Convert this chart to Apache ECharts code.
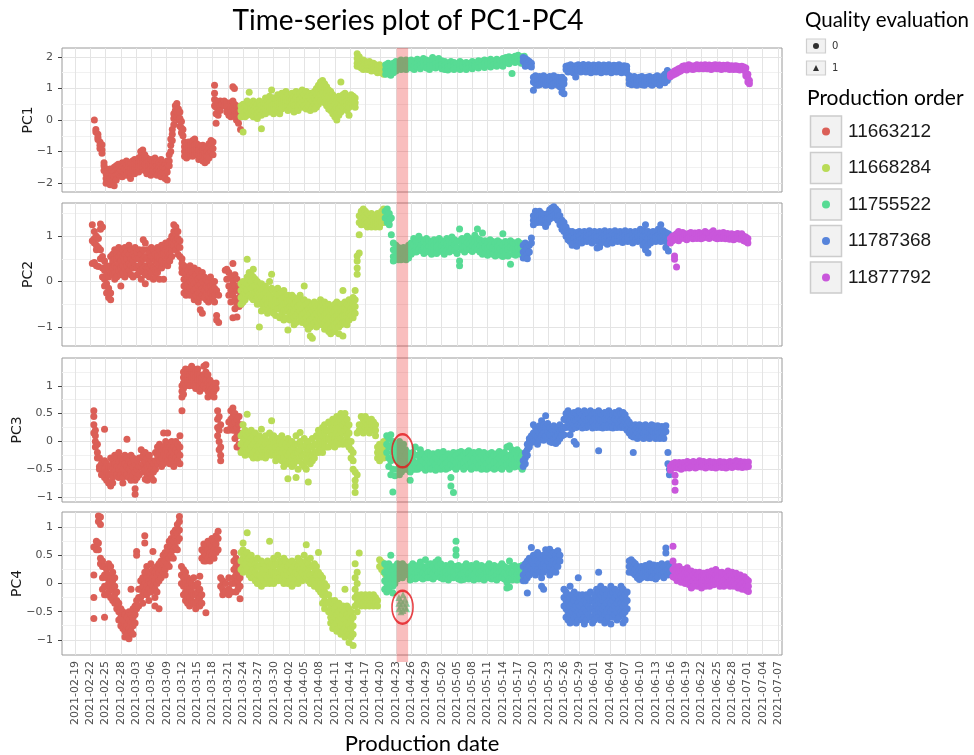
<!DOCTYPE html>
<html><head><meta charset="utf-8">
<script src="https://cdn.jsdelivr.net/npm/echarts@6/dist/echarts.min.js"></script>
<style>html,body{margin:0;padding:0;background:#fff}#chart{width:974px;height:755px}</style>
</head><body><div id="chart"></div>
<script>
// ---- DATA ----
// x values: day number counted from 2021-01-01 (day 0), fractional days allowed.
// each row: [day, value, value, ...]  (several observations read at that date)
const orders = ['11663212', '11668284', '11755522', '11787368', '11877792'];
const pcNames = ['PC1', 'PC2', 'PC3', 'PC4'];
const qualityLevels = ['0', '1'];
const xTickLabels = ['2021-02-19','2021-02-22','2021-02-25','2021-02-28','2021-03-03','2021-03-06','2021-03-09','2021-03-12','2021-03-15','2021-03-18','2021-03-21','2021-03-24','2021-03-27','2021-03-30','2021-04-02','2021-04-05','2021-04-08','2021-04-11','2021-04-14','2021-04-17','2021-04-20','2021-04-23','2021-04-26','2021-04-29','2021-05-02','2021-05-05','2021-05-08','2021-05-11','2021-05-14','2021-05-17','2021-05-20','2021-05-23','2021-05-26','2021-05-29','2021-06-01','2021-06-04','2021-06-07','2021-06-10','2021-06-13','2021-06-16','2021-06-19','2021-06-22','2021-06-25','2021-06-28','2021-07-01','2021-07-04','2021-07-07'];
const xRange = [46.45, 187.8];
const yTicks = [[-2, -1, 0, 1, 2], [-1, 0, 1], [-1, -0.5, 0, 0.5, 1], [-1, -0.5, 0, 0.5, 1]];
const yMinor = [[-1.5, -0.5, 0.5, 1.5], [-0.5, 0.5, 1.5], [-0.75, -0.25, 0.25, 0.75, 1.25], [-0.75, -0.25, 0.25, 0.75]];
const yRanges = [[-2.28, 2.28], [-1.42, 1.73], [-1.09, 1.5], [-1.27, 1.27]];
const highlightBand = [112.15, 114.4];
const highlightPC3 = [113.3, -0.17];
const highlightPC4 = [113.3, -0.42];

// ---------- PC1 ----------
const pc1_11663212 = [
[52.8,0.0],[53.1,-0.3,-0.38],[53.5,-0.45,-0.55,-0.62],[53.9,-0.7,-0.8,-0.9],[54.3,-0.78,-0.95,-1.05],[54.7,-1.35,-1.45,-1.6],
[55.1,-1.55,-1.7,-1.85,-2.0],[55.5,-1.6,-1.8,-1.95],[55.9,-1.55,-1.7,-1.85,-2.05],[56.3,-1.6,-1.75,-1.9],[56.7,-1.5,-1.65,-1.8,-2.08],
[57.1,-1.45,-1.6,-1.75,-1.9],[57.5,-1.4,-1.55,-1.7],[57.9,-1.45,-1.6,-1.78],[58.3,-1.35,-1.5,-1.65,-1.8],[58.7,-1.4,-1.55,-1.7],
[59.1,-1.3,-1.45,-1.6,-1.75],[59.5,-1.35,-1.5,-1.65],[59.9,-1.4,-1.55,-1.7,-1.85],[60.3,-1.3,-1.45,-1.6],[60.7,-1.25,-1.4,-1.55,-1.7],
[61.1,-1.3,-1.45,-1.6],[61.5,-1.2,-1.35,-1.5,-1.65],[61.9,-1.0,-1.15,-1.3,-1.45],[62.3,-0.95,-1.2,-1.35,-1.5],[62.7,-1.1,-1.25,-1.4,-1.6],
[63.1,-1.2,-1.35,-1.5,-1.7],[63.5,-1.3,-1.45,-1.6],[63.9,-1.25,-1.4,-1.55,-1.75],[64.3,-1.3,-1.45,-1.6],[64.7,-1.2,-1.35,-1.5,-1.65],
[65.1,-1.3,-1.45,-1.6,-1.75],[65.5,-1.35,-1.5,-1.65],[65.9,-1.25,-1.4,-1.55,-1.7,-1.8],[66.3,-1.35,-1.5,-1.65],[66.7,-1.4,-1.55,-1.7,-1.85],
[67.1,-1.3,-1.5,-1.65,-1.9],[67.5,-1.1,-1.3,-1.45],[67.8,-0.6,-0.8,-1.0],[68.1,-0.3,-0.45,-0.65],[68.4,0.05,0.2,-0.15],
[68.7,0.15,0.3,0.45],[69.0,0.1,0.25,0.4,0.52],[69.3,0.0,0.2,0.35],[69.6,-0.2,0.05,0.25],[69.9,-0.4,-0.25,-0.05],[70.2,-0.5,-0.3],
[70.5,-0.7,-0.85,-1.0,-1.15],[70.9,-0.75,-0.9,-1.05,-1.2],[71.3,-0.7,-0.85,-1.0,-1.15],[71.7,-0.8,-0.95,-1.1],[72.1,-0.65,-0.85,-1.0,-1.15],
[72.5,-0.6,-0.8,-0.95,-1.1],[72.9,-0.75,-0.9,-1.05],[73.3,-0.8,-0.95,-1.1,-1.25],[73.7,-0.85,-1.0,-1.15],[74.1,-0.8,-0.95,-1.1,-1.3],
[74.5,-0.9,-1.05,-1.2,-1.35],[74.9,-0.85,-1.0,-1.15,-1.3],[75.3,-0.75,-0.9,-1.05,-1.2],[75.7,-0.65,-0.8,-1.0],[76.1,-0.7,-0.9,-1.1],
[76.4,1.1,0.85,0.65,0.45],[76.7,0.6,0.4,0.2,-0.1],[77.1,0.55,0.35,0.15],[77.5,0.6,0.45,0.3],[77.9,0.55,0.5],[78.3,0.6,0.45],
[78.8,0.55,0.4,0.25],[79.2,0.3,0.15],[79.6,0.55,0.4,0.25,0.1],[80.0,1.05,0.6,0.4],[80.3,1.0,0.5,0.3,0.15],[80.7,0.45,0.2,0.0],
[81.1,0.4,0.25,-0.1],[81.5,0.3,0.1,-0.3]
];
const pc1_11668284 = [
[81.6,0.45,0.3,0.1],[82.0,0.5,0.35,0.2,-0.38],[82.4,0.4,0.25,0.1],[82.8,0.6,0.45,0.3,0.15],[83.2,0.88,0.55,0.35,0.2],[83.6,0.5,0.35,0.2],
[84.0,0.6,0.45,0.3,0.1],[84.4,0.55,0.4,0.25],[84.8,0.5,0.35,0.2,0.05],[85.2,0.6,0.4,0.25],[85.6,0.45,0.3,0.15,-0.28],[86.0,0.55,0.4,0.25],
[86.4,0.7,0.5,0.35,0.2],[86.8,0.6,0.45,0.3],[87.2,0.75,0.55,0.4,0.25],[87.6,0.95,0.6,0.45,0.3],[88.0,0.7,0.5,0.35,0.2],[88.4,0.65,0.5,0.35],
[88.8,0.8,0.6,0.45,0.3],[89.2,0.7,0.55,0.4,0.2],[89.6,0.85,0.65,0.5,0.35],[90.0,0.75,0.6,0.45],[90.4,0.9,0.7,0.55,0.4],[90.8,0.8,0.6,0.45,0.3],
[91.2,0.7,0.55,0.4],[91.6,0.85,0.65,0.5,0.35],[92.0,0.75,0.6,0.45,0.25],[92.4,0.9,0.7,0.5],[92.8,0.8,0.6,0.45,0.3],[93.2,0.85,0.65,0.5],
[93.6,0.95,0.75,0.55,0.4],[94.0,0.8,0.6,0.45],[94.4,0.9,0.7,0.5,0.35],[94.8,0.75,0.6,0.45],[95.2,0.85,0.65,0.5,0.3],[95.6,0.8,0.6,0.4],
[96.0,0.9,0.7,0.5,0.35],[96.4,1.0,0.8,0.6,0.4],[96.8,1.1,0.9,0.7,0.5],[97.2,1.2,1.0,0.8,0.6],[97.6,1.25,1.05,0.85,0.65],[98.0,1.15,0.95,0.75,0.55],
[98.4,1.05,0.85,0.65,0.45],[98.8,0.95,0.75,0.55,0.35],[99.2,0.9,0.7,0.5,0.3],[99.6,0.8,0.6,0.4,0.2],[100.0,0.7,0.5,0.3,0.1],[100.4,0.6,0.4,0.2,0.0],
[100.8,0.75,0.55,0.35,0.15],[101.2,1.2,0.65,0.45,0.25],[101.6,0.8,0.6,0.4],[102.0,0.85,0.7,0.55,0.4],[102.4,0.75,0.6,0.45,0.3],[102.8,0.7,0.55,0.4,0.15],
[103.2,0.8,0.65,0.5],[103.6,0.75,0.6,0.45],[104.0,0.7,0.55,0.4],[104.4,2.1,1.95,1.8,1.7],[104.8,2.0,1.85,1.7],[105.2,1.85,1.75,1.65],
[105.6,1.9,1.8,1.7,1.6],[106.0,1.85,1.75,1.65],[106.4,1.8,1.7,1.6],[106.8,1.85,1.75,1.65],[107.2,1.75,1.65,1.55],[107.6,1.8,1.7,1.6],
[108.0,1.75,1.65,1.55],[108.4,1.7,1.6,1.5],[108.8,1.75,1.65,1.55],[109.2,1.7,1.6,1.5],[109.6,1.65,1.55,1.45],[110.0,1.6,1.5]
];
const pc1_11755522 = [
[110.0,1.75,1.6,1.45],[110.5,1.8,1.65,1.5],[111.0,1.7,1.55,1.42],[111.5,1.8,1.65,1.5],[112.0,1.85,1.7,1.55],[112.5,1.8,1.65],
[113.0,1.9,1.75,1.6],[113.5,1.85,1.7],[114.0,1.9,1.75,1.6],[114.5,1.85,1.7],[115.0,1.9,1.78,1.65],[115.6,1.85,1.72,1.6],
[116.2,1.92,1.8,1.68],[116.8,1.88,1.75,1.62],[117.4,1.95,1.82,1.7],[118.0,1.9,1.78,1.65],[118.6,1.85,1.72,1.6],[119.2,1.98,1.85,1.72],
[119.8,1.9,1.78,1.65],[120.4,1.95,1.82,1.7],[121.0,1.88,1.75,1.62],[121.6,1.85,1.72,1.6],[122.2,1.8,1.68,1.58],[122.8,1.85,1.72],
[123.4,1.82,1.7,1.6],[124.0,1.78,1.66],[124.6,1.85,1.72,1.6],[125.2,1.8,1.68],[125.8,1.82,1.7,1.6],[126.4,1.78,1.66],
[127.0,1.85,1.72,1.62],[127.6,1.8,1.7],[128.2,1.88,1.75,1.65],[128.8,1.85,1.72],[129.4,1.9,1.78,1.66],[130.0,1.88,1.76],
[130.6,1.92,1.8,1.68],[131.2,1.86,1.75],[131.8,1.92,1.8,1.7],[132.4,1.88,1.76],[133.0,1.95,1.82,1.7],[133.6,1.98,1.86],
[134.2,2.0,1.9,1.78],[134.8,1.98,1.88,1.47],[135.4,2.02,1.92,1.82],[136.0,2.05,1.95],[136.6,2.0,1.9,1.8],[137.2,2.02,1.92]
];
const pc1_11787368 = [
[137.0,1.98,1.85],[137.4,1.95,1.82,1.7],[137.8,1.9,1.78],[138.2,1.85,1.72],[138.6,1.8,1.68],[139.0,1.35,1.2,0.94],
[139.4,1.4,1.28,1.15],[139.8,1.35,1.22,1.1],[140.2,1.38,1.25,1.12],[140.6,1.3,1.18],[141.0,1.4,1.27,1.15],[141.4,1.35,1.22,1.1],
[141.8,1.3,1.2],[142.2,1.38,1.25,1.12],[142.6,1.32,1.2,1.08],[143.0,1.4,1.28,1.15],[143.4,1.3,1.18],[143.8,1.35,1.22,1.1],
[144.2,1.3,1.2,1.05],[144.6,1.35,1.22,1.0,0.88],[145.0,1.28,1.15,0.83],[145.4,1.7,1.6],[145.8,1.72,1.62,1.52],[146.3,1.75,1.65,1.55],
[146.8,1.7,1.6,1.5],[147.3,1.72,1.62,1.36],[147.8,1.75,1.65,1.55],[148.3,1.72,1.62,1.52],[148.8,1.76,1.66],[149.3,1.72,1.62,1.52],
[149.8,1.75,1.65],[150.3,1.7,1.6,1.5],[150.8,1.74,1.64],[151.3,1.72,1.62,1.52],[151.8,1.75,1.65],[152.3,1.7,1.6,1.5],
[152.8,1.74,1.64],[153.3,1.72,1.62,1.52],[153.8,1.75,1.65],[154.3,1.7,1.6,1.5],[154.8,1.73,1.63],[155.3,1.72,1.62,1.52],
[155.8,1.75,1.65],[156.3,1.7,1.6,1.5],[156.8,1.72,1.62],[157.3,1.7,1.6,1.5],[157.8,1.4,1.28,1.15],[158.3,1.35,1.22,1.12],
[158.8,1.38,1.25,1.15],[159.3,1.32,1.2,1.1],[159.8,1.35,1.22],[160.3,1.38,1.25,1.12],[160.8,1.3,1.2,1.1],[161.3,1.35,1.22],
[161.8,1.38,1.26,1.14],[162.3,1.32,1.2,1.1],[162.8,1.35,1.24],[163.3,1.4,1.28,1.15],[163.8,1.35,1.22,1.1],[164.3,1.38,1.25],
[164.8,1.45,1.3,1.18],[165.3,1.57,1.4,1.25],[165.7,1.5,1.35]
];
const pc1_11877792 = [
[165.9,1.45,1.38],[166.3,1.5,1.42],[166.7,1.55,1.45],[167.1,1.58,1.48],[167.5,1.62,1.52],[167.9,1.65,1.55],[168.3,1.7,1.6],
[168.7,1.72,1.62],[169.1,1.68,1.58],[169.5,1.75,1.65],[169.9,1.72,1.62],[170.3,1.7,1.6],[170.7,1.72,1.62],[171.1,1.75,1.65],
[171.5,1.72,1.62],[171.9,1.74,1.64],[172.3,1.72,1.62],[172.7,1.75,1.65],[173.1,1.72,1.62],[173.5,1.74,1.64],[173.9,1.7,1.6],
[174.3,1.73,1.63],[174.7,1.75,1.65],[175.1,1.72,1.62],[175.5,1.74,1.64],[175.9,1.7,1.6],[176.3,1.73,1.63],[176.7,1.72,1.62],
[177.1,1.74,1.64],[177.5,1.7,1.6],[177.9,1.72,1.62],[178.3,1.7,1.6],[178.7,1.72,1.62],[179.1,1.7,1.6],[179.5,1.68,1.58],
[179.9,1.7,1.6],[180.3,1.68,1.58],[180.7,1.65,1.5,1.4],[181.1,1.45,1.32,1.2],[181.4,1.25,1.15]
];

// ---------- PC2 ----------
const pc2_11663212 = [
[52.4,1.25,0.9,0.4],[52.8,1.1,0.95,0.85,0.42],[53.2,1.0,0.8,0.7,0.35],[53.6,0.95,0.75,0.33],[54.0,1.27,1.15,0.7,0.5],[54.4,1.2,0.55,0.3,0.1],
[54.8,0.45,0.25,0.05,-0.1],[55.2,0.35,0.15,-0.05,-0.25],[55.6,0.3,0.1,-0.15,-0.35],[56.0,0.55,0.35,0.2,-0.25,-0.4],[56.4,0.6,0.45,0.3,0.15],
[56.8,0.7,0.5,0.35,0.2,0.05],[57.2,0.65,0.5,0.3,0.1],[57.6,0.75,0.55,0.4,0.25],[58.0,0.6,0.45,0.3,0.15,-0.1],[58.4,0.7,0.55,0.35,0.2],
[58.8,0.75,0.6,0.45,0.3,0.1],[59.2,0.65,0.5,0.35,0.2],[59.6,0.8,0.6,0.4,0.25],[60.0,0.7,0.5,0.35,0.15],[60.4,0.6,0.45,0.3,0.1],
[60.8,0.75,0.55,0.35],[61.2,0.65,0.5,0.3,0.15],[61.6,0.7,0.5,0.35,0.2],[62.0,0.6,0.4,0.25,0.05],[62.4,0.92,0.7,0.5,0.3],
[62.8,0.85,0.55,0.35,0.15,-0.05],[63.2,0.7,0.5,0.3,0.2],[63.6,0.65,0.45,0.3,0.1],[64.0,0.75,0.55,0.35,0.2],[64.4,0.7,0.5,0.3,0.05],
[64.8,0.6,0.45,0.25,0.1],[65.2,0.75,0.55,0.4,0.2],[65.6,0.7,0.5,0.35,0.05],[66.0,0.8,0.6,0.45,0.3],[66.4,0.75,0.6,0.4,0.05],
[66.8,0.85,0.7,0.55,0.4],[67.2,0.8,0.65,0.5,0.35],[67.6,0.9,0.75,0.6,0.45],[68.0,1.0,0.85,0.7,0.55],[68.4,1.25,1.1,0.95,0.8],
[68.8,1.2,1.05,0.9,0.7],[69.2,1.1,0.95,0.8,0.6],[69.6,0.9,0.75,0.55],[70.0,0.5,0.4,0.3,0.2],[70.4,0.35,0.2,0.05,-0.1,-0.25],
[70.8,0.3,0.15,0.0,-0.15,-0.3],[71.2,0.25,0.1,-0.05,-0.2],[71.6,0.35,0.15,0.0,-0.15,-0.3],[72.0,0.2,0.05,-0.1,-0.25],
[72.4,0.3,0.1,-0.05,-0.2,-0.4],[72.8,0.15,0.0,-0.15,-0.3],[73.2,0.25,0.05,-0.1,-0.25,-0.45],[73.6,0.1,-0.05,-0.2,-0.35,-0.62],
[74.0,0.2,0.0,-0.15,-0.3,-0.7],[74.4,0.1,-0.05,-0.2,-0.35],[74.8,0.05,-0.1,-0.25,-0.4],[75.2,0.0,-0.15,-0.3,-0.45],
[75.6,0.1,-0.1,-0.25,-0.4],[76.0,-0.05,-0.2,-0.35],[76.4,0.0,-0.15,-0.3,-0.45],[76.8,-0.2,-0.75,-0.85],[77.2,-0.3,-0.9],
[78.5,0.25],[78.8,0.27,0.05],[79.2,0.2,-0.1,-0.3],[79.6,0.1,-0.2,-0.45],[80.0,0.4,0.0,-0.3,-0.8],[80.4,0.15,-0.1,-0.4,-0.6],
[80.8,0.05,-0.2,-0.5,-0.78],[81.2,-0.1,-0.35,-0.55],[81.6,-0.05,-0.3,-0.5]
];
const pc2_11668284 = [
[81.6,-0.05,-0.2,-0.35,-0.5],[82.0,0.0,-0.15,-0.3,-0.45],[82.4,-0.1,-0.25,-0.4],[82.8,0.49,0.1,-0.05,-0.2],[83.2,0.2,0.05,-0.1,-0.3],
[83.6,0.15,0.0,-0.15,-0.35],[84.0,0.27,0.1,-0.1,-0.25,-0.4],[84.4,0.05,-0.1,-0.25,-0.4],[84.8,0.0,-0.2,-0.35,-0.5],[85.2,-0.1,-0.25,-0.4,-1.0],
[85.6,-0.05,-0.2,-0.35,-0.5,-0.65],[86.0,-0.15,-0.3,-0.45,-0.6],[86.4,-0.1,-0.25,-0.4,-0.55],[86.8,-0.2,-0.35,-0.5,-0.7],
[87.2,0.0,-0.3,-0.45,-0.6],[87.6,0.16,-0.15,-0.35,-0.5,-0.65],[88.0,-0.2,-0.4,-0.55,-0.7],[88.4,-0.25,-0.4,-0.55,-0.75],
[88.8,-0.15,-0.3,-0.45,-0.6],[89.2,-0.3,-0.45,-0.6,-0.8],[89.6,-0.25,-0.4,-0.55,-0.7],[90.0,-0.2,-0.35,-0.5,-0.65,-0.85],
[90.4,-0.35,-0.5,-0.65,-0.8],[90.8,-0.3,-0.45,-0.6,-1.07],[91.2,-0.4,-0.55,-0.7,-0.85],[91.6,-0.3,-0.45,-0.6,-0.75],
[92.0,-0.35,-0.5,-0.65,-0.8,-0.95],[92.4,-0.45,-0.6,-0.75,-0.9],[92.8,-0.4,-0.55,-0.7],[93.2,-0.3,-0.5,-0.65,-0.8],
[93.6,-0.45,-0.6,-0.75,-0.9],[94.0,-0.1,-0.4,-0.55,-0.7,-0.85],[94.4,-0.5,-0.65,-0.8,-0.95],[94.8,-0.45,-0.6,-0.75,-0.9,-1.05],
[95.2,-0.55,-0.7,-0.85,-1.0,-1.2],[95.6,-0.5,-0.65,-0.8,-0.95,-1.25],[96.0,-0.45,-0.6,-0.75,-0.9],[96.4,-0.55,-0.7,-0.85,-1.0],
[96.8,-0.5,-0.65,-0.8,-0.95],[97.2,-0.4,-0.55,-0.7,-0.85],[97.6,-0.5,-0.65,-0.8,-0.95],[98.0,-0.45,-0.6,-0.75,-0.9,-1.05],
[98.4,-0.55,-0.7,-0.85,-1.0],[98.8,-0.5,-0.65,-0.8,-0.95,-1.1],[99.2,-0.6,-0.75,-0.9,-1.05,-1.15],[99.6,-0.55,-0.7,-0.85,-1.0],
[100.0,-0.5,-0.65,-0.8,-0.95,-1.1],[100.4,-0.45,-0.6,-0.75,-0.9],[100.8,-0.55,-0.7,-0.85,-1.0,-1.15],[101.2,-0.5,-0.65,-0.8,-0.95],
[101.6,-0.2,-0.6,-0.75,-0.9,-1.2],[102.0,-0.45,-0.6,-0.75,-0.9],[102.4,-0.5,-0.65,-0.8,-0.95],[102.8,-0.4,-0.55,-0.7,-0.85],
[103.2,-0.45,-0.6,-0.75],[103.6,-0.35,-0.5,-0.65,-0.8],[104.0,-0.2,-0.4,-0.55,-0.7],[104.4,0.16,0.3,0.45,0.56],[104.8,0.63,1.03,1.45,1.3],
[105.2,1.55,1.45,1.35,1.25],[105.6,1.6,1.5,1.4,1.3],[106.0,1.55,1.45,1.35,1.25],[106.4,1.5,1.4,1.3,1.2],[106.8,1.45,1.35,1.25],
[107.2,1.5,1.4,1.3,1.2],[107.6,1.45,1.35,1.25],[108.0,1.4,1.3,1.2],[108.4,1.5,1.35,1.25],[108.8,1.45,1.35,1.2],[109.2,1.55,1.4,1.3],
[109.6,1.6,1.45,1.3],[110.0,1.5,1.35]
];
const pc2_11755522 = [
[109.9,1.55,1.4],[110.3,1.6,1.45,1.3],[110.7,1.5,1.35,1.25],[111.1,1.4,1.03],[111.5,0.85,0.7,0.55,0.45],[112.0,0.8,0.65,0.5],
[112.5,0.75,0.6,0.48],[113.0,0.72,0.6,0.48],[113.5,0.75,0.62,0.5],[114.0,0.7,0.58,0.48],[114.5,0.8,0.65,0.52],[115.0,0.85,0.72,0.6],
[115.5,0.95,0.8,0.65],[116.0,0.9,0.78,0.65],[116.5,1.0,0.85,0.7],[117.0,0.92,0.8,0.68],[117.5,0.88,0.75,0.62],[118.0,0.95,0.82,0.7],
[118.5,0.9,0.78,0.65],[119.0,0.85,0.72,0.6],[119.5,0.92,0.8,0.68],[120.0,0.88,0.75,0.62],[120.5,0.95,0.82,0.7],[121.0,0.9,0.78,0.66],
[121.5,0.85,0.72,0.6],[122.0,0.95,0.82,0.68],[122.5,0.9,0.78,0.65],[123.0,0.98,0.85,0.72],[123.5,0.92,0.8,0.68],[124.0,0.88,0.75,0.62],
[124.5,1.16,0.9,0.45,0.35],[125.0,0.95,0.82,0.7],[125.5,0.9,0.78,0.65],[126.0,1.0,0.85,0.72],[126.5,0.95,0.82,0.7],[127.0,0.9,0.78,0.66],
[127.5,1.02,0.88,0.75],[128.0,1.16,0.95,0.82,0.7],[128.5,0.92,0.78,0.65],[129.0,1.07,0.85,0.72,0.6],[129.5,0.9,0.76,0.62],[130.0,0.85,0.72,0.58],
[130.5,0.92,0.78,0.65],[131.0,0.88,0.74,0.6],[131.5,0.85,0.7,0.56],[132.0,0.9,0.76,0.62],[132.5,0.86,0.72,0.58],[133.0,1.05,0.8,0.66,0.55],
[133.5,0.88,0.74,0.6],[134.0,0.84,0.7,0.56],[134.5,0.9,0.76,0.38],[135.0,0.86,0.72,0.6],[135.5,0.82,0.7,0.58],[136.0,0.88,0.75,0.62],
[136.5,0.84,0.72,0.6],[137.0,0.8,0.68,0.56]
];
const pc2_11787368 = [
[137.0,0.8,0.65,0.52],[137.4,0.85,0.7,0.55],[137.8,0.75,0.6,0.5],[138.2,0.8,0.65],[138.6,0.96,0.85],[139.0,1.45,1.35,1.25],
[139.4,1.55,1.45,1.35],[139.8,1.5,1.4,1.3],[140.2,1.55,1.45,1.35],[140.6,1.5,1.4,1.3],[141.0,1.48,1.38],[141.4,1.35,1.25,1.21],
[141.8,1.5,1.4,1.3],[142.2,1.58,1.48,1.38],[142.6,1.62,1.52,1.42],[143.0,1.65,1.55,1.45],[143.4,1.6,1.5,1.4],[143.8,1.55,1.45,1.35],
[144.2,1.45,1.35,1.25],[144.6,1.35,1.25,1.15],[145.0,1.3,1.2,1.1],[145.4,1.2,1.1,1.0],[145.8,1.12,1.02,0.92],[146.2,1.08,0.98,0.88],
[146.6,1.1,1.0,0.9,0.8],[147.0,1.05,0.95,0.85],[147.5,1.08,0.98,0.88,0.78],[148.0,1.1,1.0,0.9],[148.5,1.05,0.95,0.85],[149.0,1.1,1.0,0.9],
[149.5,1.08,0.98,0.88],[150.0,1.12,1.02,0.92],[150.5,1.05,0.95,0.85],[151.0,1.1,1.0,0.9],[151.5,1.08,0.98,0.88,0.74],[152.0,1.1,1.0,0.9,0.76],
[152.5,1.06,0.96,0.86],[153.0,1.12,1.02,0.92],[153.5,1.08,0.98,0.82],[154.0,1.1,1.0,0.9],[154.5,1.05,0.95,0.85],[155.0,1.12,1.02,0.92],
[155.5,1.08,0.98,0.88],[156.0,1.1,1.0,0.9],[156.5,1.06,0.96,0.86],[157.0,1.12,1.02,0.92],[157.5,1.08,0.98,0.88],[158.0,1.1,1.0,0.9],
[158.5,1.05,0.95,0.85],[159.0,1.1,1.0,0.9],[159.5,1.08,0.98,0.88],[160.0,1.15,1.02,0.92],[160.5,1.12,1.0,0.9,0.8],[161.0,1.25,1.1,0.98,0.85,0.7],
[161.5,1.1,0.95,0.8,0.63],[162.0,1.05,0.95,0.85],[162.5,1.1,1.0,0.9],[163.0,1.08,0.98,0.88],[163.5,1.15,1.02,0.92],[164.0,1.25,1.1,0.98,0.88],
[164.5,1.12,1.0,0.9],[165.0,1.08,0.98,0.88,0.75],[165.5,1.05,0.95,0.67],[166.0,1.0,0.9]
];
const pc2_11877792 = [
[165.9,0.95,0.85],[166.3,1.0,0.9],[166.7,1.02,0.92,0.56,0.49],[167.1,1.05,0.95,0.32],[167.5,1.1,1.0,0.9],[167.9,1.05,0.95],
[168.3,1.08,0.98],[168.7,1.05,0.95],[169.1,1.02,0.92],[169.5,1.06,0.96],[169.9,1.08,0.98],[170.3,1.04,0.94],[170.7,1.07,0.97],
[171.1,1.05,0.95],[171.5,1.08,0.98],[171.9,1.04,0.94],[172.3,1.06,0.96],[172.7,1.1,1.0],[173.1,1.07,0.97],[173.5,1.05,0.95],
[173.9,1.08,0.98],[174.3,1.12,1.02],[174.7,1.06,0.96],[175.1,1.04,0.94],[175.5,1.07,0.97],[175.9,1.05,0.95],[176.3,1.08,0.98],
[176.7,1.04,0.94],[177.1,1.06,0.96],[177.5,1.03,0.93],[177.9,1.05,0.95],[178.3,1.02,0.92],[178.7,1.04,0.94],[179.1,1.06,0.96],
[179.5,1.03,0.93],[179.9,1.05,0.95],[180.3,1.0,0.9],[180.7,0.98,0.88],[181.1,0.95,0.85]
];

// ---------- PC3 ----------
const pc3_11663212 = [
[52.7,0.55,0.45,0.3,0.15],[53.0,0.2,0.1,0.0,-0.1],[53.4,-0.05,-0.2,-0.3],[53.8,-0.3,-0.45,-0.5],[54.2,-0.4,-0.5,-0.6],
[54.8,0.22,-0.35,-0.5,-0.65],[55.2,-0.4,-0.55,-0.7],[55.6,-0.45,-0.6,-0.75],[56.0,-0.3,-0.45,-0.6,-0.8],[56.4,-0.35,-0.5,-0.65,-0.75],
[56.8,-0.25,-0.4,-0.55],[57.2,-0.3,-0.45,-0.6],[57.6,-0.2,-0.35,-0.5,-0.65],[58.0,-0.3,-0.45,-0.6],[58.4,-0.35,-0.5,-0.65,-0.75],
[58.8,-0.25,-0.4,-0.55],[59.2,0.04,-0.3,-0.45,-0.6],[59.6,-0.35,-0.5,-0.65],[60.0,-0.25,-0.4,-0.55,-0.7],[60.4,-0.3,-0.45,-0.6],
[60.8,-0.4,-0.55,-0.7,-0.85,-0.95],[61.2,-0.35,-0.5,-0.65],[61.6,-0.3,-0.45,-0.6],[62.0,-0.15,-0.3,-0.45],[62.4,-0.25,-0.4,-0.55],
[62.8,-0.2,-0.35,-0.5,-0.68],[63.2,-0.3,-0.45,-0.6,-0.7],[63.6,-0.25,-0.4,-0.55],[64.0,-0.35,-0.5,-0.65],[64.4,-0.4,-0.55,-0.7],
[64.8,-0.2,-0.35,-0.5],[65.2,-0.1,-0.25,-0.4],[65.6,-0.05,-0.2,-0.35],[66.0,-0.15,-0.3,-0.45],[66.4,0.15,-0.1,-0.25,-0.4],
[66.8,0.0,-0.15,-0.3],[67.2,0.15,-0.05,-0.2,-0.35],[67.6,-0.1,-0.25,-0.4],[68.0,0.0,-0.15,-0.3],[68.4,-0.1,-0.25,-0.4,-0.45],
[68.8,0.0,-0.15,-0.3],[69.2,-0.05,-0.2,-0.35],[69.6,0.1,-0.1,-0.25,-0.4],[70.0,0.55,1.0,0.9,0.8],[70.3,1.25,1.15,1.05,0.95,0.85],
[70.7,1.3,1.2,1.1,1.0],[71.1,1.25,1.15,1.05],[71.5,1.3,1.2,1.1,1.0],[71.9,1.35,1.25,1.15],[72.3,1.3,1.2,1.1,1.0],[72.7,1.25,1.15,1.05,0.95],
[73.1,1.3,1.2,1.1],[73.5,1.2,1.1,1.0,0.9],[73.9,1.15,1.05,0.95],[74.3,1.35,1.2,1.1,1.0],[74.7,1.38,1.25,1.1,0.95],[75.1,1.2,1.05,0.9,0.8],
[75.5,1.1,1.0,0.9],[75.9,1.05,0.95,0.85],[76.3,1.0,0.9,0.8],[76.7,1.05,0.95],[77.0,0.55,0.4,0.25,0.1],[77.3,0.45,0.2,0.0,-0.15],
[77.6,0.3,-0.1,-0.25,-0.35],[78.8,0.2],[79.2,0.35,0.2],[79.6,0.55,0.4,0.25],[80.0,0.6,0.45,0.3,0.2],[80.4,0.5,0.35,0.2,0.05],
[80.8,0.4,0.25,0.1,-0.1],[81.2,0.45,0.3,0.15,-0.05],[81.6,0.3,0.1,-0.15]
];
const pc3_11668284 = [
[81.6,0.1,-0.05,-0.2],[82.0,0.3,0.15,0.0,-0.15],[82.4,0.2,0.05,-0.1,-0.25],[82.8,0.49,0.1,-0.05,-0.2],[83.2,0.15,0.0,-0.15],
[83.6,0.2,0.05,-0.1,-0.25],[84.0,0.1,-0.05,-0.2,-0.3],[84.4,0.15,0.0,-0.15],[84.8,0.05,-0.1,-0.25,-0.3],[85.2,0.1,-0.05,-0.2],
[85.6,0.22,0.0,-0.15,-0.28],[86.0,0.05,-0.1,-0.2],[86.4,0.1,-0.05,-0.2,-0.3],[86.8,0.0,-0.15,-0.25],[87.2,0.15,-0.05,-0.2],
[87.6,0.37,0.05,-0.1,-0.25],[88.0,0.1,-0.05,-0.2],[88.4,0.0,-0.1,-0.25,-0.35],[88.8,0.05,-0.1,-0.2],[89.2,0.0,-0.15,-0.3],
[89.6,0.1,-0.05,-0.2,-0.35],[90.0,0.0,-0.15,-0.3,-0.45],[90.4,-0.05,-0.2,-0.35],[90.8,0.05,-0.1,-0.25,-0.4,-0.67],[91.2,-0.05,-0.2,-0.35],
[91.6,0.0,-0.15,-0.3,-0.45],[92.0,-0.1,-0.25,-0.4],[92.4,0.1,-0.05,-0.2,-0.35,-0.65],[92.8,-0.05,-0.2,-0.35,-0.5],[93.2,0.16,0.0,-0.15,-0.3],
[93.6,-0.1,-0.25,-0.4],[94.0,0.05,-0.1,-0.25,-0.45],[94.4,-0.05,-0.2,-0.35,-0.5],[94.8,0.0,-0.15,-0.3,-0.73],[95.2,-0.1,-0.25,-0.4],
[95.6,0.05,-0.1,-0.25,-0.35],[96.0,-0.05,-0.2,-0.3],[96.4,0.1,-0.05,-0.2],[96.8,0.2,0.05,-0.1,-0.2],[97.2,0.15,0.0,-0.15],
[97.6,0.25,0.1,-0.05,-0.2],[98.0,0.3,0.15,0.0,-0.1],[98.4,0.2,0.05,-0.1],[98.8,0.35,0.2,0.05,-0.1],[99.2,0.3,0.15,0.0],
[99.6,0.4,0.25,0.1,-0.05],[100.0,0.35,0.2,0.05,-0.1],[100.4,0.45,0.3,0.15,0.0],[100.8,0.4,0.25,0.1,-0.05],[101.2,0.5,0.35,0.2,0.05],
[101.6,0.45,0.3,0.15,-0.05],[102.0,0.5,0.35,0.2,0.0],[102.4,0.4,0.25,0.1,-0.05],[102.8,0.3,0.15,0.0,-0.1],[103.2,0.0,-0.15,-0.3],
[103.6,-0.2,-0.35,-0.5],[104.0,-0.55,-0.7,-0.8,-0.92],[104.4,0.15,-0.6],[104.8,0.3,0.2],[105.2,0.45,0.3,0.2],[105.6,0.4,0.3,0.15],
[106.0,0.45,0.35,0.25],[106.4,0.4,0.3,0.2],[106.8,0.35,0.25,0.15],[107.2,0.4,0.3,0.2],[107.6,0.35,0.25],[108.0,0.3,0.2,0.1],
[108.4,-0.1,-0.2,-0.3],[108.8,-0.05,-0.15,-0.25,-0.35],[109.2,-0.1,-0.2,-0.3],[109.6,0.0,-0.15,-0.3],[110.0,-0.1,-0.2]
];
const pc3_11755522 = [
[110.2,0.1,-0.05,-0.2],[110.6,0.05,-0.1,-0.3,-0.45],[111.0,0.12,-0.1,-0.35,-0.6],[111.4,0.0,-0.2,-0.5,-0.91],[111.8,-0.1,-0.3,-0.62],
[112.3,-0.05,-0.2,-0.35,-0.5],[112.7,0.0,-0.15,-0.3,-0.45,-0.6],[113.1,-0.1,-0.25,-0.4,-0.55],[113.5,-0.05,-0.2,-0.35,-0.5],
[113.9,-0.15,-0.3,-0.45],[114.3,-0.2,-0.35,-0.5],[114.8,-0.25,-0.4,-0.55,-0.7],[115.3,-0.2,-0.35,-0.5],[115.8,-0.1,-0.25,-0.4,-0.5],
[116.3,-0.25,-0.38,-0.5],[116.8,-0.15,-0.3,-0.45],[117.3,-0.22,-0.35,-0.48],[117.8,-0.28,-0.4,-0.52],[118.3,-0.2,-0.33,-0.46],
[118.8,-0.25,-0.38,-0.5],[119.3,-0.22,-0.35,-0.48],[119.8,-0.3,-0.42,-0.52],[120.3,-0.2,-0.33,-0.46],[120.8,-0.25,-0.38,-0.5],
[121.3,-0.18,-0.3,-0.44],[121.8,-0.28,-0.4,-0.5],[122.3,-0.22,-0.35,-0.48],[122.8,-0.3,-0.42,-0.65,-0.8],[123.3,-0.2,-0.33,-0.46,-0.92],
[123.8,-0.25,-0.38,-0.5],[124.3,-0.2,-0.32,-0.45],[124.8,-0.18,-0.3,-0.42],[125.3,-0.25,-0.38,-0.5],[125.8,-0.2,-0.33,-0.46],
[126.3,-0.17,-0.3,-0.43],[126.8,-0.25,-0.38,-0.5],[127.3,-0.2,-0.32,-0.45],[127.8,-0.22,-0.35,-0.48],[128.3,-0.18,-0.3,-0.43],
[128.8,-0.25,-0.38,-0.5],[129.3,-0.2,-0.33,-0.46],[129.8,-0.28,-0.4,-0.5],[130.3,-0.22,-0.35,-0.48],[130.8,-0.2,-0.32,-0.45],
[131.3,-0.25,-0.38,-0.5],[131.8,-0.22,-0.35,-0.48],[132.3,-0.18,-0.3,-0.43],[132.8,-0.25,-0.38,-0.5],[133.3,-0.2,-0.32,-0.45],
[133.8,-0.1,-0.3,-0.42],[134.3,-0.08,-0.25,-0.38,-0.5],[134.8,-0.15,-0.3,-0.42],[135.3,-0.2,-0.33,-0.46],[135.8,-0.15,-0.28,-0.4],
[136.3,-0.2,-0.32,-0.45],[136.8,-0.25,-0.38,-0.5]
];
const pc3_11787368 = [
[137.0,-0.45,-0.35],[137.4,-0.4,-0.3,-0.2],[137.8,-0.25,-0.15,-0.05],[138.2,-0.1,0.0,0.05],[138.6,-0.02,0.05,0.1],[139.0,0.3,0.15,0.0],
[139.4,0.25,0.12,0.0],[139.8,0.2,0.08,-0.05],[140.2,0.28,0.15,0.02],[140.6,0.37,0.22,0.1],[141.0,0.3,0.15,0.02],[141.4,0.46,0.25,0.1],
[141.8,0.32,0.18,0.05],[142.2,0.25,0.12,0.0],[142.6,0.22,0.1,-0.02],[143.0,0.28,0.15,0.05],[143.4,0.2,0.08,-0.04],[143.8,0.25,0.12,0.0],
[144.2,0.3,0.18,0.05],[144.6,0.22,0.1],[145.0,0.4,0.25,0.12],[145.4,0.5,0.38,0.25],[145.8,0.55,0.42,0.3],[146.2,0.5,0.38,0.25,0.12],
[146.6,0.48,0.35,0.22],[147.0,0.52,0.4,0.28,0.0],[147.4,0.5,0.38,0.25,-0.05],[147.8,0.55,0.42,0.3],[148.2,0.52,0.4,0.28],
[148.6,0.48,0.36,0.24],[149.0,0.55,0.42,0.3],[149.4,0.5,0.38,0.25],[149.8,0.52,0.4,0.28],[150.2,0.55,0.42,0.3],[150.6,0.48,0.36,0.24],
[151.0,0.52,0.4,0.28],[151.4,0.5,0.38,0.25],[151.8,0.55,0.42,0.3,-0.17],[152.2,0.5,0.38,0.25],[152.6,0.48,0.36,0.24],[153.0,0.52,0.4,0.28],
[153.4,0.5,0.38,0.25],[153.8,0.55,0.42,0.3],[154.2,0.5,0.38,0.25],[154.6,0.48,0.36,0.24],[155.0,0.52,0.4,0.28],[155.4,0.5,0.38,0.25],
[155.8,0.55,0.42,0.3],[156.2,0.5,0.38,0.25],[156.6,0.52,0.4,0.28],[157.0,0.48,0.36,0.24],[157.4,0.4,0.3,0.2],[157.8,0.35,0.25,0.15],
[158.2,0.3,0.2,0.1],[158.6,0.28,0.18,0.08,-0.2],[159.0,0.3,0.2,0.1],[159.4,0.25,0.15,0.05],[159.8,0.3,0.2,0.1],[160.2,0.28,0.18,0.08],
[160.6,0.25,0.15,0.05],[161.0,0.3,0.2,0.1],[161.4,0.27,0.17,0.07],[161.8,0.25,0.15,0.05],[162.2,0.3,0.2,0.1],[162.6,0.28,0.18,0.08],
[163.0,0.25,0.15,0.05],[163.4,0.28,0.18,0.08],[163.8,0.25,0.15,0.05],[164.2,0.27,0.17,0.07],[164.6,0.25,0.15,0.05],[165.0,0.28,0.18],
[165.4,-0.2,-0.4],[165.7,-0.5,-0.6]
];
const pc3_11877792 = [
[165.9,-0.45,-0.52],[166.3,-0.4,-0.48],[166.8,-0.38,-0.46,-0.61,-0.73,-0.88],[167.2,-0.4,-0.48],[167.6,-0.38,-0.46],[168.0,-0.42,-0.5],
[168.4,-0.38,-0.46],[168.8,-0.4,-0.48],[169.2,-0.36,-0.44],[169.6,-0.4,-0.48],[170.0,-0.38,-0.46],[170.4,-0.36,-0.44],[170.8,-0.4,-0.48],
[171.2,-0.38,-0.46],[171.6,-0.35,-0.43],[172.0,-0.38,-0.46],[172.4,-0.36,-0.44],[172.8,-0.4,-0.48],[173.2,-0.38,-0.46],[173.6,-0.36,-0.44],
[174.0,-0.39,-0.47],[174.4,-0.37,-0.45],[174.8,-0.4,-0.48],[175.2,-0.38,-0.46],[175.6,-0.36,-0.44],[176.0,-0.39,-0.47],[176.4,-0.37,-0.45],
[176.8,-0.4,-0.48],[177.2,-0.38,-0.46],[177.6,-0.36,-0.44],[178.0,-0.39,-0.47],[178.4,-0.37,-0.45],[178.8,-0.35,-0.43],[179.2,-0.38,-0.46],
[179.6,-0.36,-0.44],[180.0,-0.39,-0.47],[180.4,-0.37,-0.45],[180.8,-0.38,-0.46],[181.2,-0.37,-0.45]
];

// ---------- PC4 ----------
const pc4_11663212 = [
[52.7,0.65,0.15,-0.25,-0.62],[53.2,0.75,0.65,0.6],[53.6,1.2,1.1,0.72,0.6],[54.0,1.18,1.05,0.45,0.35],[54.4,0.4,0.3,0.1,-0.1],
[54.8,0.3,0.15,-0.05,-0.2,-0.6],[55.2,0.25,0.1,-0.05,-0.2],[55.6,0.35,0.15,0.0,-0.15],[56.0,0.3,0.1,-0.05,-0.25],[56.4,0.2,0.05,-0.1,-0.3],
[56.8,0.1,-0.05,-0.2,-0.35],[57.2,-0.15,-0.3,-0.45],[57.6,-0.35,-0.5,-0.65],[58.0,-0.45,-0.6,-0.75],[58.4,-0.5,-0.65,-0.8],
[58.8,-0.55,-0.7,-0.85,-0.95],[59.2,-0.6,-0.75,-0.9],[59.6,-0.5,-0.65,-0.8,-0.98],[60.0,-0.1,-0.55,-0.7,-0.85],[60.4,-0.45,-0.6,-0.75,-0.9],
[60.8,-0.4,-0.55,-0.7],[61.1,0.57,0.5,-0.3,-0.45],[61.5,-0.1,-0.25,-0.4],[61.9,0.05,-0.1,-0.25],[62.3,0.1,-0.05,-0.2,-0.35],
[62.7,0.85,0.72,0.2,0.0,-0.15],[63.1,0.3,0.1,-0.05,-0.2],[63.5,0.2,0.05,-0.1,-0.3],[63.9,0.35,0.15,0.0,-0.15],[64.3,0.57,0.25,0.1,-0.05],
[64.7,0.2,0.05,-0.1,-0.25,-0.4],[65.1,0.3,0.15,0.0,-0.15],[65.5,0.35,0.2,0.05,-0.45],[65.9,0.4,0.25,0.1],[66.3,0.5,0.35,0.2],
[66.7,0.55,0.4,0.25,0.15],[67.1,0.65,0.5,0.35],[67.5,0.75,0.6,0.45,0.3],[67.9,0.8,0.65,0.5],[68.3,0.9,0.75,0.6,0.45],[68.7,0.95,0.8,0.65],
[69.1,1.05,0.9,0.75,0.6],[69.5,1.19,1.1,0.95,0.8],[69.9,0.3,0.15,0.0],[70.3,0.25,0.1,-0.05,-0.2],[70.7,0.2,0.0,-0.15,-0.3],
[71.1,0.1,-0.05,-0.2,-0.35],[71.5,0.05,-0.1,-0.25,-0.4],[71.9,0.0,-0.15,-0.3],[72.3,0.1,-0.05,-0.2,-0.35],[72.7,-0.05,-0.2,-0.35,-0.45],
[73.1,0.0,-0.15,-0.3],[73.5,0.13,-0.1,-0.25,-0.4],[73.9,0.6,0.45,-0.2,-0.35],[74.3,0.7,0.55,0.4],[74.7,0.65,0.5,0.4,-0.52],
[75.1,0.75,0.6,0.45],[75.5,0.7,0.55,0.4],[75.9,0.8,0.65,0.5],[76.3,0.75,0.6,0.45],[76.7,0.85,0.7,0.55],[77.1,0.93,0.8,0.6],
[77.6,0.1,-0.05],[78.0,0.05,-0.1,-0.2],[78.6,0.0,-0.15],[79.2,0.1,-0.1,-0.2],[79.8,0.0,-0.15],[80.2,0.55,0.4,0.25,0.1],
[80.6,0.45,0.3,0.15,0.0,-0.15],[81.0,0.35,0.2,0.05,-0.1],[81.4,0.3,0.1,-0.05,-0.27]
];
const pc4_11668284 = [
[81.6,0.55,0.4,0.25],[82.0,0.72,0.6,0.45,0.3,0.2],[82.4,0.5,0.35,0.25],[82.8,0.9,0.55,0.4,0.25],[83.2,0.45,0.3,0.15],[83.6,0.5,0.35,0.2,0.1],
[84.0,0.4,0.25,0.1],[84.4,0.35,0.2,0.05],[84.8,0.45,0.3,0.15,0.0],[85.2,0.3,0.15,0.05],[85.6,0.4,0.25,0.1,-0.05],[86.0,0.35,0.2,0.05],
[86.4,0.3,0.15,0.0],[86.8,0.4,0.25,0.1],[87.2,0.75,0.3,0.15,0.0],[87.6,0.35,0.2,0.05],[88.0,0.45,0.3,0.15,0.0],[88.4,0.35,0.2,0.1],
[88.8,0.5,0.35,0.2,0.05],[89.2,0.4,0.25,0.1],[89.6,0.35,0.2,0.05],[90.0,0.45,0.3,0.15,0.0],[90.4,0.4,0.25,0.1],[90.8,0.3,0.15,0.0],
[91.2,0.35,0.2,0.05],[91.6,0.4,0.25,0.1,-0.05],[92.0,0.3,0.15,0.0],[92.4,0.35,0.2,0.1],[92.8,0.45,0.3,0.15,0.0],[93.2,0.4,0.25,0.1],
[93.6,0.35,0.2,0.05],[94.0,0.5,0.3,0.15],[94.4,0.69,0.4,0.25,0.1],[94.8,0.35,0.2,0.05],[95.2,0.45,0.3,0.15,0.0],[95.6,0.3,0.15,0.05],
[96.0,0.35,0.2,0.05,-0.05],[96.4,0.3,0.15,0.0],[96.8,0.55,0.2,0.05,-0.1],[97.2,0.15,0.0,-0.15],[97.6,0.1,-0.05,-0.2,-0.35],
[98.0,0.0,-0.15,-0.3,-0.45],[98.4,-0.05,-0.2,-0.35],[98.8,-0.2,-0.35,-0.5],[99.2,-0.3,-0.45,-0.6,-0.7],[99.6,-0.35,-0.5,-0.65,-0.8],
[100.0,-0.3,-0.45,-0.6,-0.75],[100.4,-0.4,-0.55,-0.7,-0.85],[100.8,-0.35,-0.5,-0.65,-0.8],[101.2,-0.45,-0.6,-0.75,-0.9],
[101.6,-0.4,-0.55,-0.7,-0.85],[102.0,-0.1,-0.5,-0.65,-0.8,-0.95],[102.4,-0.4,-0.55,-0.7,-0.85],[102.8,-0.45,-0.6,-0.75,-0.9,-1.05],
[103.2,-0.5,-0.65,-0.8,-0.95],[103.6,-0.6,-0.75,-0.9,-1.1],[104.0,0.35,0.1,-0.1,-0.25,-0.4],[104.4,0.2,0.0,-0.2,-0.35,-0.5],
[104.8,0.54,-0.25,-0.35],[105.2,-0.2,-0.3,-0.4],[105.6,-0.25,-0.35],[106.0,-0.2,-0.3,-0.4],[106.4,-0.25,-0.35],[106.8,-0.2,-0.3,-0.4],
[107.2,-0.25,-0.35],[107.6,-0.2,-0.3,-0.4],[108.0,-0.25,-0.35],[108.4,-0.3,-0.4],[108.8,0.42,0.3],[109.2,0.38,0.25],[109.6,0.35,0.2],
[110.0,0.3,0.15]
];
const pc4_11755522 = [
[109.8,0.35,0.2,0.05,-0.1],[110.2,0.3,0.15,0.0,-0.15],[110.6,0.35,0.2,0.05,-0.1],[111.0,0.5,0.3,0.15,0.0],[111.4,0.25,0.1,-0.05,-0.17],
[111.8,0.3,0.15,0.0],[112.3,0.35,0.2,0.08],[112.8,0.3,0.18],[113.3,0.35,0.22,0.1],[113.8,0.3,0.18],[114.3,0.28,0.15],[114.8,0.3,0.18,0.06],
[115.3,0.35,0.22,0.1],[115.8,0.3,0.18,0.08],[116.3,0.32,0.2,0.1],[116.8,0.38,0.25,0.12],[117.3,0.3,0.18,0.08],[117.8,0.42,0.28,0.15],
[118.3,0.32,0.2,0.1],[118.8,0.35,0.22,0.1],[119.3,0.3,0.18,0.08],[119.8,0.38,0.25,0.12],[120.3,0.42,0.3,0.18],[120.8,0.35,0.22,0.1],
[121.3,0.3,0.18,0.08],[121.8,0.32,0.2,0.1],[122.3,0.28,0.16,0.06],[122.8,0.35,0.22,0.1],[123.3,0.3,0.2,0.1],[123.8,0.75,0.6,0.5,0.3,0.15],
[124.3,0.32,0.2,0.08],[124.8,0.28,0.16,0.06],[125.3,0.3,0.18,0.07],[125.8,0.35,0.22,0.1],[126.3,0.3,0.18,0.08],[126.8,0.32,0.2,0.1],
[127.3,0.28,0.16,0.06],[127.8,0.35,0.22,0.1],[128.3,0.3,0.18,0.08],[128.8,0.32,0.2,0.1],[129.3,0.28,0.16,0.06],[129.8,0.3,0.2,0.1],
[130.3,0.35,0.22,0.1],[130.8,0.3,0.18,0.08],[131.3,0.32,0.2,0.1],[131.8,0.28,0.16,0.06],[132.3,0.3,0.2,0.1],[132.8,0.35,0.22,0.1],
[133.3,0.3,0.18,0.08],[133.8,0.28,0.15,0.02,-0.08],[134.3,0.4,0.2,0.08,-0.06],[134.8,0.3,0.18,0.06],[135.3,0.32,0.2,0.1],
[135.8,0.28,0.16,0.06],[136.3,0.3,0.2,0.1],[136.8,0.32,0.2,0.08],[137.3,0.3,0.18]
];
const pc4_11787368 = [
[137.0,0.3,0.15,0.05],[137.4,0.35,0.2,0.05],[137.8,0.4,0.25,0.1,-0.17],[138.2,0.45,0.3,0.15],[138.6,0.64,0.4,0.25],[139.0,0.5,0.35,0.2],
[139.4,0.45,0.3,0.15],[139.8,0.55,0.4,0.25],[140.2,0.5,0.35,0.2],[140.6,0.45,0.3,0.1,-0.05],[141.0,0.5,0.35,0.2,-0.1],[141.4,0.6,0.45,0.3],
[141.8,0.55,0.4,0.25],[142.2,0.61,0.45,0.3,0.15],[142.6,0.5,0.35,0.2],[143.0,0.55,0.4,0.25],[143.4,0.5,0.35,0.2],[143.8,0.58,0.45,0.3],
[144.2,0.5,0.4],[145.0,-0.1,-0.25,-0.4],[145.4,-0.15,-0.3,-0.45,-0.6],[145.8,-0.2,-0.35,-0.5,-0.65],[146.2,-0.05,-0.25,-0.4,-0.55,-0.7],
[146.6,-0.2,-0.35,-0.5,-0.65],[147.0,-0.15,-0.3,-0.45,-0.6],[147.4,-0.25,-0.4,-0.55,-0.7],[147.8,0.1,-0.2,-0.35,-0.5,-0.65],
[148.2,-0.25,-0.4,-0.55],[148.6,-0.2,-0.35,-0.5,-0.65],[149.0,-0.3,-0.45,-0.6,-0.72],[149.4,-0.2,-0.35,-0.5,-0.65],[149.8,-0.25,-0.4,-0.55],
[150.2,-0.15,-0.3,-0.45,-0.6],[150.6,-0.3,-0.45,-0.6,-0.7],[151.0,-0.2,-0.35,-0.5,-0.65],[151.4,-0.1,-0.25,-0.4,-0.55],
[151.8,0.2,-0.15,-0.3,-0.45,-0.6],[152.2,-0.05,-0.2,-0.35,-0.5,-0.65],[152.6,-0.15,-0.3,-0.45,-0.6],[153.0,-0.1,-0.25,-0.4,-0.55,-0.7],
[153.4,-0.2,-0.35,-0.5,-0.65],[153.8,-0.15,-0.3,-0.45,-0.6],[154.2,-0.05,-0.2,-0.35,-0.5,-0.72],[154.6,-0.15,-0.3,-0.45,-0.6],
[155.0,-0.1,-0.25,-0.4,-0.55],[155.4,-0.2,-0.35,-0.5,-0.65],[155.8,-0.15,-0.3,-0.45,-0.6],[156.2,-0.05,-0.2,-0.35,-0.5],
[156.6,-0.1,-0.25,-0.4,-0.55,-0.7],[157.0,-0.2,-0.35,-0.5,-0.65],[157.4,-0.15,-0.3,-0.45],[157.8,0.4,0.3,0.2],[158.2,0.42,0.32,0.22],
[158.6,0.38,0.28,0.18],[159.0,0.35,0.25,0.15],[159.4,0.3,0.2,0.1],[159.8,0.25,0.15,0.07],[160.2,0.3,0.2,0.1],[160.6,0.28,0.18],
[161.0,0.32,0.22,0.12],[161.4,0.3,0.2,0.1],[161.8,0.35,0.25,0.15],[162.2,0.3,0.2,0.1],[162.6,0.33,0.23,0.13],[163.0,0.28,0.18,0.08],
[163.4,0.32,0.22,0.12],[163.8,0.3,0.2],[164.2,0.35,0.25,0.15],[164.6,0.3,0.2,0.1],[165.0,0.63,0.54,0.32,0.22],[165.4,0.35,0.25,0.15],
[165.8,0.3,0.2]
];
const pc4_11877792 = [
[166.4,0.66,0.4,0.25,0.12],[166.8,0.3,0.2,0.1],[167.2,0.25,0.15,0.05],[167.6,0.3,0.2,0.1],[168.0,0.22,0.12,0.02],[168.4,0.25,0.15,0.05],
[168.8,0.2,0.1,0.0],[169.2,0.28,0.18,0.08],[169.6,0.18,0.08,-0.02],[170.0,0.22,0.12,0.02,-0.08],[170.4,0.15,0.05,-0.05],[170.8,0.2,0.1,0.0],
[171.2,0.15,0.05,-0.05],[171.6,0.2,0.1,0.0],[172.0,0.12,0.02,-0.08],[172.4,0.18,0.08,-0.02],[172.8,0.15,0.05,-0.05],[173.2,0.2,0.1,0.0],
[173.6,0.15,0.05,-0.05],[174.0,0.22,0.12,0.02],[174.4,0.18,0.08,-0.02],[174.8,0.25,0.15,0.05],[175.2,0.2,0.1,0.0],[175.6,0.15,0.05,-0.05],
[176.0,0.2,0.1,0.0],[176.4,0.15,0.05,-0.05],[176.8,0.18,0.08,-0.02],[177.2,0.22,0.12,0.02],[177.6,0.15,0.05,-0.05],[178.0,0.2,0.1,0.0],
[178.4,0.15,0.05,-0.05],[178.8,0.18,0.08,-0.02],[179.2,0.12,0.02,-0.08],[179.6,0.15,0.05,-0.05],[180.0,0.1,0.0,-0.1],[180.4,0.12,0.02,-0.08],
[180.8,0.08,-0.02,-0.12],[181.2,0.05,-0.05,-0.14]
];

// quality evaluation = 1 observations (order 11755522), drawn as triangles
const q1_pc3 = [[112.6,-0.05,-0.2,-0.35],[113.0,-0.1,-0.25,-0.4,-0.5],[113.4,-0.15,-0.3,-0.45],[113.8,-0.2,-0.35,-0.5],[114.1,-0.25,-0.4]];
const q1_pc4 = [[112.6,-0.25,-0.35,-0.45],[113.0,-0.3,-0.4,-0.5],[113.4,-0.2,-0.35,-0.48],[113.8,-0.28,-0.42],[114.1,-0.35,-0.45]];

// ---- BUILD ----
const pcData = [
  [pc1_11663212, pc1_11668284, pc1_11755522, pc1_11787368, pc1_11877792],
  [pc2_11663212, pc2_11668284, pc2_11755522, pc2_11787368, pc2_11877792],
  [pc3_11663212, pc3_11668284, pc3_11755522, pc3_11787368, pc3_11877792],
  [pc4_11663212, pc4_11668284, pc4_11755522, pc4_11787368, pc4_11877792]
];
const q1Data = [null, null, q1_pc3, q1_pc4];
const colors = ['#db5f57', '#b9db57', '#57db94', '#5784db', '#c957db'];
const DAY0 = Date.UTC(2021, 0, 1);
const labelToDay = s => Math.round((Date.parse(s + 'T00:00:00Z') - DAY0) / 864e5);
const dayToLabel = d => new Date(DAY0 + Math.round(d) * 864e5).toISOString().slice(0, 10);
const xTickDays = xTickLabels.map(labelToDay);
const expand = rows => { const out = []; rows.forEach(r => { for (let i = 1; i < r.length; i++) out.push([r[0], r[i]]); }); return out; };
const fmtY = v => (v < 0 ? '\u2212' + Math.abs(v) : String(v));

const grids = [
  { top: 48, height: 144 }, { top: 203, height: 143 }, { top: 358, height: 144 }, { top: 512, height: 143 }
].map(g => Object.assign({ left: 62, width: 720, show: true, borderColor: '#9a9a9a', borderWidth: 1, backgroundColor: '#fff', outerBoundsMode: 'none' }, g));
// distance of the rotated axis titles from the plot edge (wider tick labels push them further out)
const yNameGaps = [27, 27, 38, 38];

const xAxes = [], yAxes = [], series = [];
for (let p = 0; p < 4; p++) {
  const last = p === 3;
  xAxes.push({
    type: 'value', gridIndex: p, min: xRange[0], max: xRange[1],
    axisLine: { show: false }, splitLine: { show: false },
    axisTick: { show: true, length: 4, lineStyle: { color: '#444' }, customValues: xTickDays },
    axisLabel: { show: last, customValues: xTickDays, rotate: 90, margin: 6, fontSize: 11, color: '#4d4d4d', fontFamily: 'DejaVu Sans', formatter: v => dayToLabel(v) },
    name: last ? 'Production date' : '', nameLocation: 'middle', nameGap: 78, nameMoveOverlap: false,
    nameTextStyle: { fontSize: 22, color: '#000', fontFamily: 'Lato' }
  });
  yAxes.push({
    type: 'value', gridIndex: p, min: yRanges[p][0], max: yRanges[p][1],
    axisLine: { show: false }, splitLine: { show: false },
    axisTick: { show: true, length: 4, lineStyle: { color: '#444' }, customValues: yTicks[p] },
    axisLabel: { customValues: yTicks[p], margin: 9, fontSize: 11, color: '#4d4d4d', fontFamily: 'DejaVu Sans', formatter: fmtY },
    name: pcNames[p], nameLocation: 'middle', nameGap: yNameGaps[p], nameMoveOverlap: false,
    nameTextStyle: { fontSize: 14, color: '#1a1a1a', fontFamily: 'DejaVu Sans' }
  });
  const gridLineData = []
    .concat(yMinor[p].map(v => ({ yAxis: v, lineStyle: { color: '#f1f1f1' } })))
    .concat(xTickDays.map(d => ({ xAxis: d })))
    .concat(yTicks[p].map(v => ({ yAxis: v })));
  for (let o = 0; o < 5; o++) {
    const s = {
      type: 'scatter', name: orders[o], xAxisIndex: p, yAxisIndex: p,
      data: expand(pcData[p][o]), symbol: 'circle', symbolSize: 7,
      itemStyle: { color: colors[o], opacity: 1 }, z: 3, silent: true, animation: false
    };
    if (o === 0) {
      s.markLine = {
        silent: true, animation: false, z: 1, symbol: ['none', 'none'], label: { show: false },
        lineStyle: { color: '#e4e4e4', width: 1, type: 'solid' },
        emphasis: { disabled: true }, data: gridLineData
      };
    }
    series.push(s);
  }
  if (q1Data[p]) {
    series.push({
      type: 'scatter', name: orders[2], xAxisIndex: p, yAxisIndex: p, data: expand(q1Data[p]),
      symbol: 'triangle', symbolSize: 7, itemStyle: { color: colors[2] }, z: 3, silent: true, animation: false
    });
  }
}
// quality legend carriers (no data of their own)
series.push({ type: 'scatter', name: qualityLevels[0], xAxisIndex: 0, yAxisIndex: 0, data: [], symbol: 'circle', itemStyle: { color: '#000' } });
series.push({ type: 'scatter', name: qualityLevels[1], xAxisIndex: 0, yAxisIndex: 0, data: [], symbol: 'triangle', itemStyle: { color: '#000' } });
// highlight ellipses
[[2, highlightPC3], [3, highlightPC4]].forEach(([p, pt]) => {
  series.push({
    type: 'scatter', name: 'highlight', xAxisIndex: p, yAxisIndex: p, data: [pt], clip: false,
    symbol: 'circle', symbolSize: [21, 33], z: 100, silent: true, animation: false,
    itemStyle: { color: 'rgba(0,0,0,0)', borderColor: '#e3161b', borderWidth: 2 }
  });
});

const qLegend = { cx: 816, cy: 46, size: 6, rowH: 22, textPad: 8, lineH: 12 };
const oLegend = { cx: 826, cy: 131.5, size: 8, rowH: 36.5, textPad: 13, lineH: 20 };

const option = {
  backgroundColor: '#ffffff',
  animation: false,
  title: [
    { text: 'Time-series plot of PC1-PC4', left: 408, top: 7, textAlign: 'center', padding: 0,
      textStyle: { fontSize: 28, fontWeight: 'normal', color: '#000', fontFamily: 'Lato' } },
    { text: 'Quality evaluation', left: 805, top: 10, padding: 0,
      textStyle: { fontSize: 20.5, fontWeight: 'normal', color: '#000', fontFamily: 'Lato' } },
    { text: 'Production order', left: 807, top: 88, padding: 0,
      textStyle: { fontSize: 21, fontWeight: 'normal', color: '#000', fontFamily: 'Lato' } }
  ],
  legend: [
    { data: [{ name: qualityLevels[0], icon: 'circle' }, { name: qualityLevels[1], icon: 'triangle' }],
      orient: 'vertical', left: qLegend.cx - qLegend.size / 2, top: qLegend.cy - qLegend.lineH / 2, padding: 0,
      itemWidth: qLegend.size, itemHeight: qLegend.size, itemGap: qLegend.rowH - qLegend.lineH, selectedMode: false,
      textStyle: { fontSize: 10, lineHeight: qLegend.lineH, color: '#333', fontFamily: 'DejaVu Sans', padding: [0, 0, 0, qLegend.textPad] } },
    { data: orders, icon: 'circle', orient: 'vertical', left: oLegend.cx - oLegend.size / 2, top: oLegend.cy - oLegend.lineH / 2, padding: 0,
      itemWidth: oLegend.size, itemHeight: oLegend.size, itemGap: oLegend.rowH - oLegend.lineH, selectedMode: false,
      textStyle: { fontSize: 19, lineHeight: oLegend.lineH, color: '#1a1a1a', fontFamily: 'Liberation Sans', padding: [0, 0, 0, oLegend.textPad] } }
  ],
  grid: grids,
  xAxis: xAxes,
  yAxis: yAxes,
  series: series
};

const chart = echarts.init(document.getElementById('chart'), null, { renderer: 'canvas' });
chart.setOption(option);

// key boxes behind legend symbols + highlight band (band position from the axes)
const graphics = [];
for (let i = 0; i < qualityLevels.length; i++) {
  const cx = qLegend.cx, cy = qLegend.cy + i * qLegend.rowH;
  graphics.push({ type: 'rect', shape: { x: cx - 9.5, y: cy - 7, width: 19, height: 14 }, style: { fill: '#f2f2f2', stroke: '#cfcfcf', lineWidth: 1.2 }, silent: true, z: 0 });
}
for (let i = 0; i < orders.length; i++) {
  const cx = oLegend.cx, cy = oLegend.cy + i * oLegend.rowH;
  graphics.push({ type: 'rect', shape: { x: cx - 15.5, y: cy - 15.5, width: 31, height: 31 }, style: { fill: '#f2f2f2', stroke: '#cccccc', lineWidth: 1.5 }, silent: true, z: 0 });
}
const bx0 = chart.convertToPixel({ xAxisIndex: 0 }, highlightBand[0]);
const bx1 = chart.convertToPixel({ xAxisIndex: 0 }, highlightBand[1]);
const by0 = chart.convertToPixel({ yAxisIndex: 0 }, yRanges[0][1]);
const by1 = chart.convertToPixel({ yAxisIndex: 3 }, yRanges[3][0]);
graphics.push({ type: 'rect', shape: { x: bx0, y: by0, width: bx1 - bx0, height: by1 - by0 + 7 }, style: { fill: 'rgba(235,40,40,0.3)' }, silent: true, z: 50 });
chart.setOption({ graphic: graphics });
</script>
</body></html>
